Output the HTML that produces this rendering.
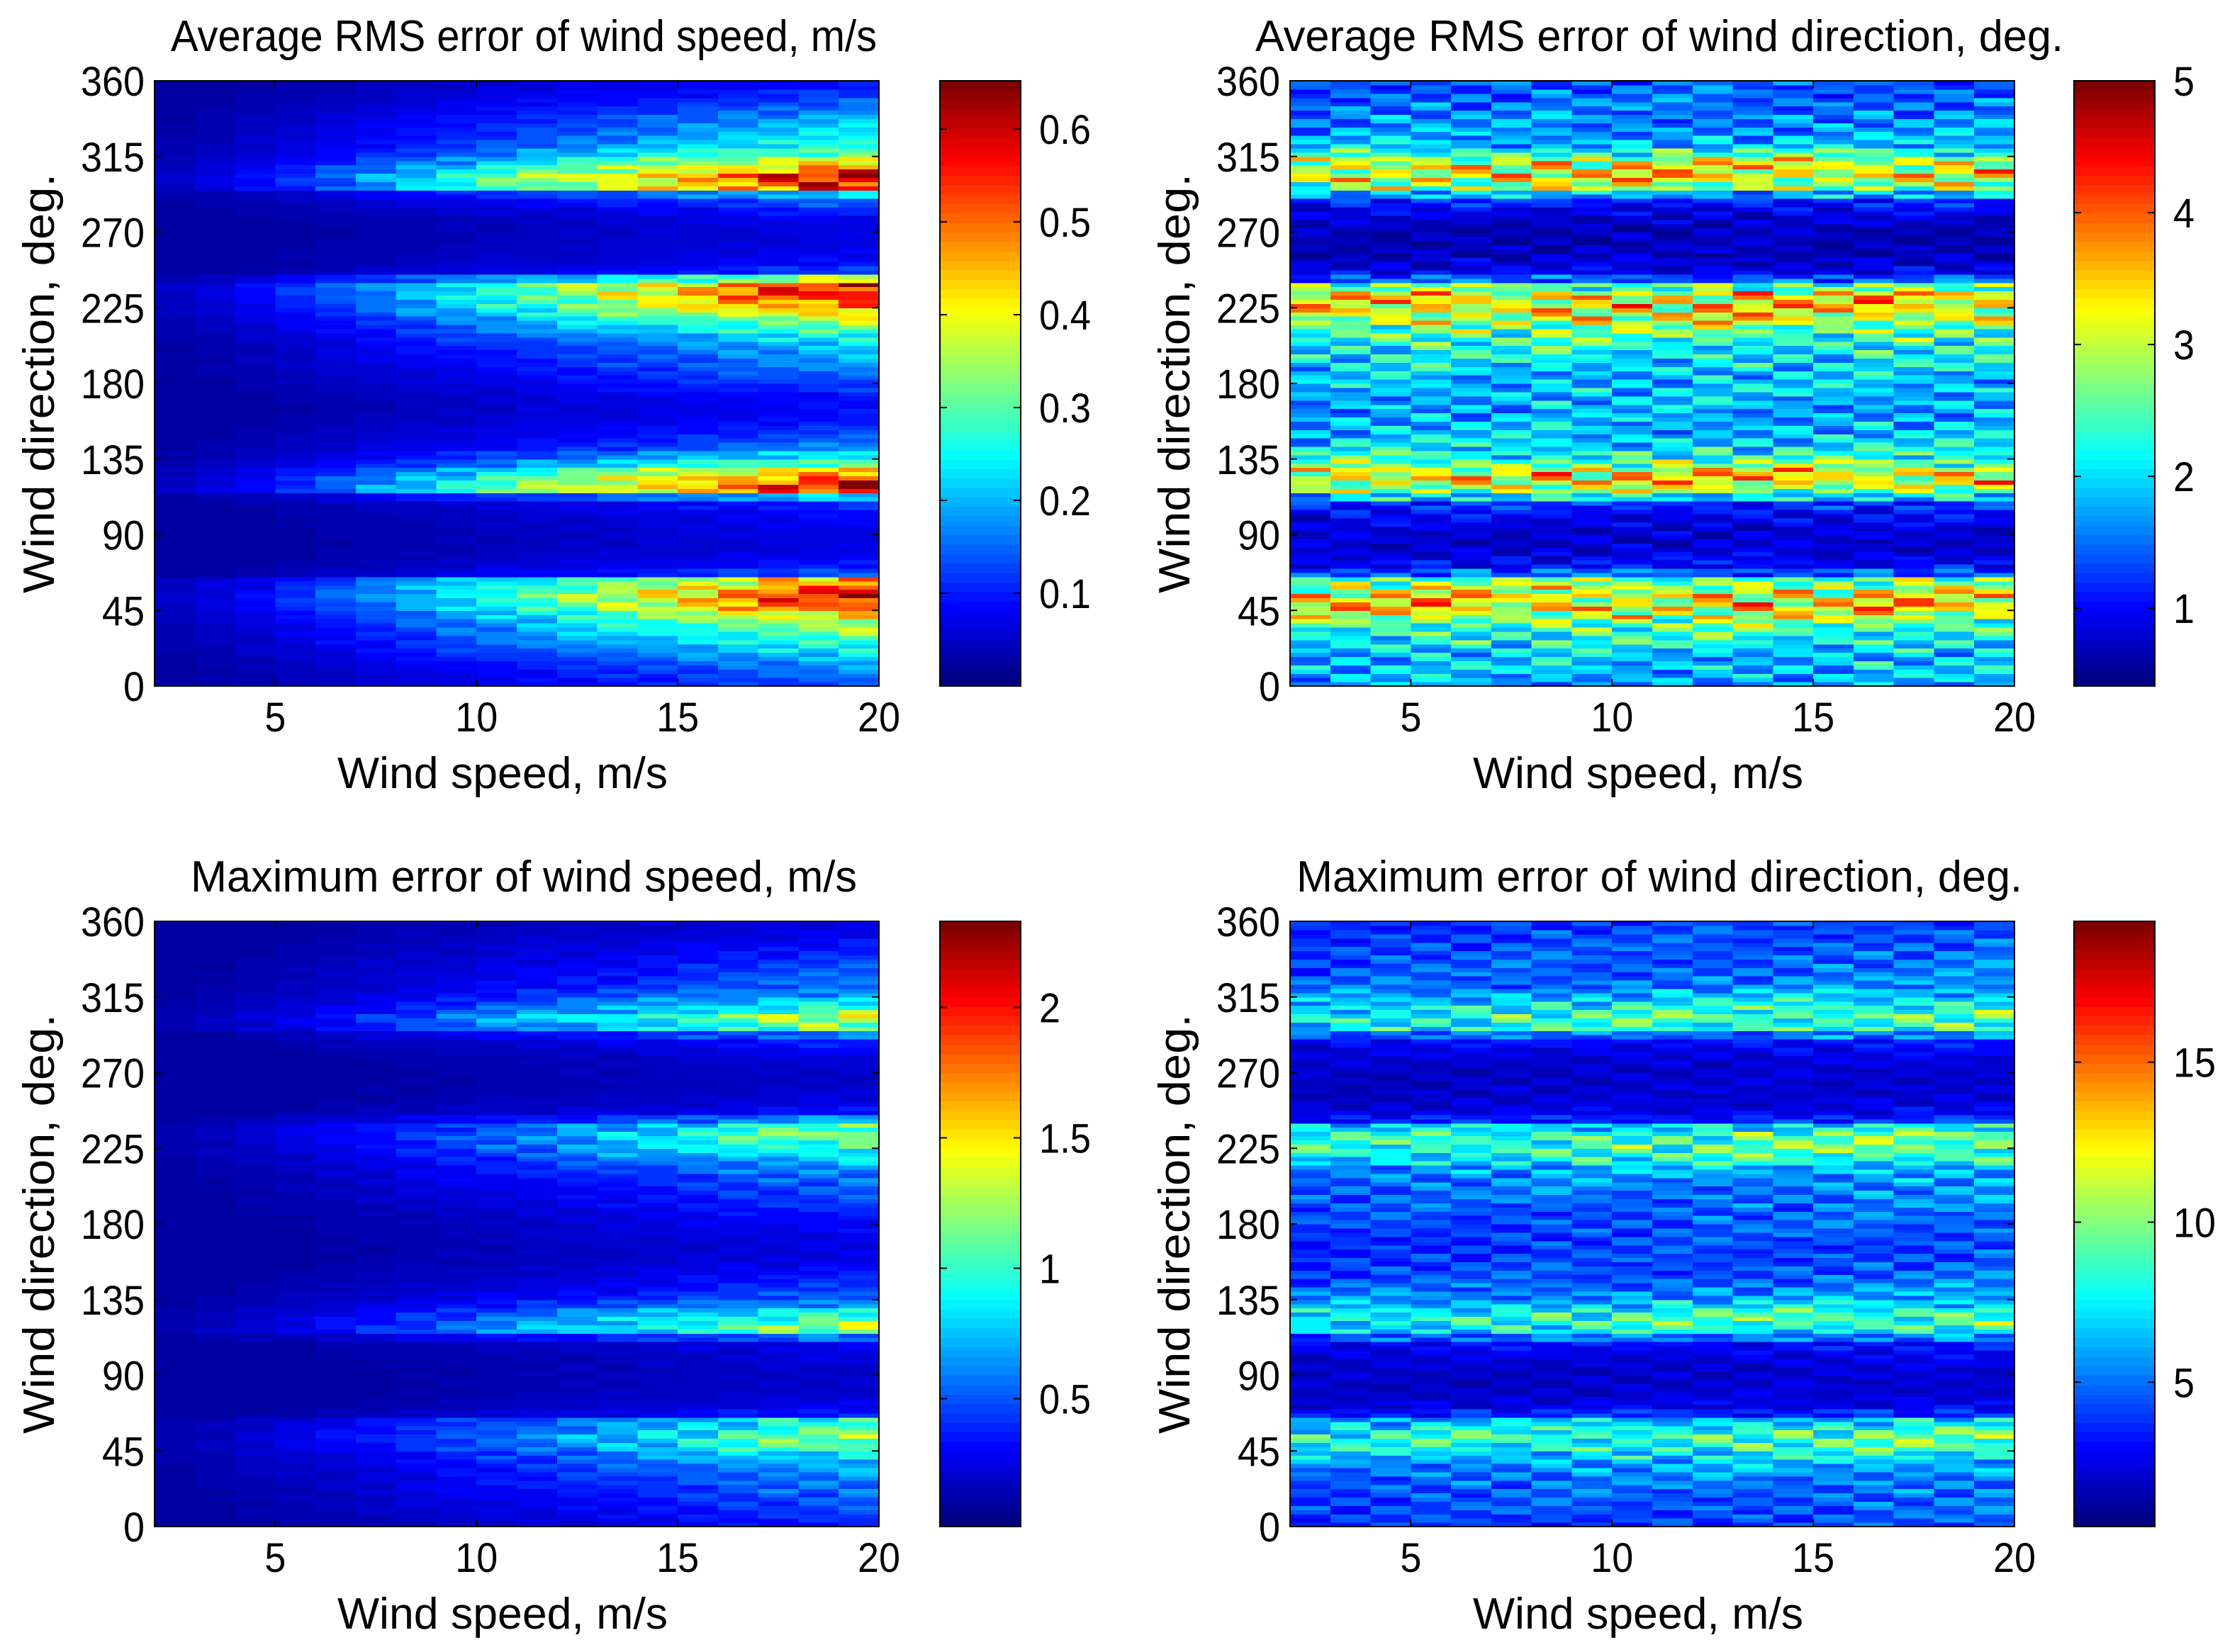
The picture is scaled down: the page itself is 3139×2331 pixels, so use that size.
<!DOCTYPE html>
<html><head><meta charset="utf-8">
<style>html,body{margin:0;padding:0;background:#fff}svg{display:block}text{font-family:"Liberation Sans",sans-serif;fill:#000}</style>
</head><body>
<svg id="fig" width="3139" height="2331" viewBox="0 0 3139 2331" xmlns="http://www.w3.org/2000/svg"></svg>
<script>
// ---- data ----
const speedEdges=[2,3,4,5,6,7,8,9,10,11,12,13,14,15,16,17,18,19,20];
const xTicks=[5,10,15,20];
const yTicks=[0,45,90,135,180,225,270,315,360];
const dirStep=5;
const profRmsSpeed=[0.12,0.14,0.16,0.2,0.24,0.28,0.32,0.36,0.42,0.5,0.55,0.52,0.45,0.12,0.08,0.06,0.05,0.05,0.05,0.06,0.07,0.09,0.2,0.58,0.55,0.45,0.3,0.22,0.15,0.12,0.1,0.08,0.07,0.07,0.08,0.1,0.12,0.14,0.16,0.18,0.2,0.24,0.3,0.35,0.45,0.5,0.55,0.55,0.35,0.1,0.07,0.06,0.05,0.05,0.05,0.06,0.08,0.12,0.2,0.55,0.6,0.5,0.4,0.3,0.25,0.22,0.2,0.18,0.15,0.12,0.1,0.08];
const profRmsDir=[1.7,1.8,1.9,1.8,2.0,2.2,2.3,2.6,3.0,3.3,3.2,3.0,2.6,1.4,1.0,0.9,0.8,0.8,0.8,0.9,1.0,1.2,2.0,2.8,3.3,3.2,2.6,2.2,2.0,1.9,1.8,1.8,1.7,1.8,1.8,1.9,1.8,1.9,2.0,2.1,2.2,2.4,2.6,3.0,3.2,3.3,3.2,2.5,1.4,0.9,0.8,0.7,0.7,0.7,0.7,0.8,0.9,1.1,1.8,2.8,3.2,3.2,3.0,2.3,1.8,1.7,1.6,1.6,1.5,1.5,1.4,1.4];
const profMaxSpeed=[0.3,0.35,0.4,0.45,0.5,0.55,0.6,0.7,0.8,1.0,1.1,1.0,0.9,0.3,0.2,0.15,0.12,0.12,0.12,0.14,0.16,0.2,0.5,1.2,1.1,0.9,0.6,0.45,0.35,0.3,0.25,0.2,0.18,0.18,0.2,0.22,0.25,0.3,0.35,0.4,0.45,0.5,0.6,0.7,0.9,1.0,1.1,1.0,0.6,0.25,0.18,0.15,0.12,0.12,0.12,0.15,0.2,0.3,0.5,1.1,1.3,1.0,0.8,0.6,0.5,0.45,0.4,0.35,0.3,0.25,0.2,0.18];
const profMaxDir=[4,4.2,4.5,4.5,4.8,5,5.5,6,7,8,8.5,8,6.5,3.5,2.5,2.2,2,2,2,2.2,2.5,3,5,7.5,8.5,8,6.5,5.5,5,4.5,4.3,4.2,4,4,4.2,4.3,4.5,4.5,4.8,5,5.2,5.5,6,7.5,8.5,8.8,8.5,7,3.5,2.5,2.2,2,2,2,2,2.2,2.5,3,5,8,8.5,8,7,6,5,4.8,4.6,4.5,4.5,4.3,4.2,4];
const colRmsSpeed=[0.05,0.08,0.12,0.17,0.22,0.28,0.34,0.4,0.46,0.52,0.58,0.64,0.7,0.76,0.82,0.88,0.94,1.0];
const colRmsDir=[0.95,1,1,1.02,1,0.98,1.03,1,1.01,0.99,1.02,1,1.01,0.98,1.02,1,1.01,1];
const colMaxSpeed=[0.05,0.08,0.12,0.16,0.21,0.26,0.32,0.38,0.44,0.5,0.56,0.62,0.68,0.75,0.82,0.88,0.94,1.0];
const colMaxDir=[0.9,0.92,0.94,0.95,0.96,0.98,0.99,1,1,1.01,1.02,1.03,1.04,1.05,1.06,1.07,1.08,1.1];
const jitter=[1.0,0.85,1.15,0.92,1.08,0.8,1.2,0.95,1.05,0.88,1.12,0.97,1.03,0.83,1.17,0.9,1.1,0.94,1.06,0.86,1.14,0.99,1.01,0.82,1.18,0.91,1.09,0.96,1.04,0.87,1.13,0.93,1.07,0.84,1.16,0.98,1.02];
const cbTicks1=[0.1,0.2,0.3,0.4,0.5,0.6];
const cbTicks2=[1,2,3,4,5];
const cbTicks3=[0.5,1,1.5,2];
const cbTicks4=[5,10,15];

const NS="http://www.w3.org/2000/svg";
const svg=document.getElementById('fig');
function mk(tag,attrs,parent){const e=document.createElementNS(NS,tag);for(const k in attrs)e.setAttribute(k,attrs[k]);(parent||svg).appendChild(e);return e;}
function jet(t){t=Math.max(0,Math.min(1,t));t=Math.min(63,Math.floor(t*64))/63;
 const c=v=>Math.round(255*Math.max(0,Math.min(1,v)));
 return `rgb(${c(1.5-Math.abs(4*t-3))},${c(1.5-Math.abs(4*t-2))},${c(1.5-Math.abs(4*t-1))})`;}
function tlen(s){let w=0;for(const ch of String(s))w+=(ch==='.')?13:30;return w;}

const panels=[
 {name:'rms-speed',title:'Average RMS error of wind speed, m/s',tl:996,L:218,T:114,prof:profRmsSpeed,col:colRmsSpeed,base:0.02,k:1,min:0,max:0.652,cb:cbTicks1,cbL:1326},
 {name:'rms-direction',title:'Average RMS error of wind direction, deg.',tl:1140,L:1820,T:114,prof:profRmsDir,col:colRmsDir,base:0,k:1.6,min:0.41,max:5,cb:cbTicks2,cbL:2926},
 {name:'max-speed',title:'Maximum error of wind speed, m/s',tl:940,L:218,T:1300,prof:profMaxSpeed,col:colMaxSpeed,base:0.08,k:1.3,min:0.01,max:2.33,cb:cbTicks3,cbL:1326},
 {name:'max-direction',title:'Maximum error of wind direction, deg.',tl:1024,L:1820,T:1300,prof:profMaxDir,col:colMaxDir,base:0,k:1.6,min:0.49,max:19.4,cb:cbTicks4,cbL:2926}
];
const W=1022,H=854,CBW=114;

panels.forEach(p=>{
 const g=mk('g',{});
 
 
 const xs=v=>p.L+(v-2)/18*W;
 const ys=v=>p.T+H-(v/360)*H;
 const cs=v=>(v-p.min)/(p.max-p.min);
 const hm=mk('g',{'shape-rendering':'crispEdges'},g);
 
 
 for(let r=0;r<p.prof.length;r++){
  for(let s=0;s<2;s++){
   for(let c=0;c<speedEdges.length-1;c++){
    const j=jitter[(s*13+c*7+r*3)%jitter.length];
    const v=p.base+p.prof[r]*p.col[c]*Math.pow(j,p.k);
    const d0=r*dirStep+s*dirStep/2,d1=d0+dirStep/2;
    const x0=xs(speedEdges[c]),x1=xs(speedEdges[c+1]);
    const rc=mk('rect',{x:x0,y:ys(d1),width:x1-x0+0.6,height:ys(d0)-ys(d1)+0.6,fill:jet(cs(v))},hm);
    
    
   }
  }
 }
 const box=mk('rect',{x:p.L,y:p.T,width:W,height:H,fill:'none',stroke:'#000','stroke-width':2},g);
 
 
 xTicks.forEach(t=>{
  const x=xs(t);
  mk('line',{x1:x,x2:x,y1:p.T+H,y2:p.T+H-10,stroke:'#000','stroke-width':2},g);
  mk('line',{x1:x,x2:x,y1:p.T,y2:p.T+10,stroke:'#000','stroke-width':2},g);
  const tx=mk('text',{x:x,y:p.T+H+64,'font-size':58,'text-anchor':'middle',textLength:tlen(t),lengthAdjust:'spacingAndGlyphs'},g);
  tx.textContent=t;
  
  
 });
 yTicks.forEach(t=>{
  const y=ys(t);
  mk('line',{x1:p.L,x2:p.L+10,y1:y,y2:y,stroke:'#000','stroke-width':2},g);
  mk('line',{x1:p.L+W,x2:p.L+W-10,y1:y,y2:y,stroke:'#000','stroke-width':2},g);
  const tx=mk('text',{x:p.L-14,y:y+21,'font-size':58,'text-anchor':'end',textLength:tlen(t),lengthAdjust:'spacingAndGlyphs'},g);
  tx.textContent=t;
  
  
 });
 const ti=mk('text',{x:p.L+W/2+10,y:p.T-42,'font-size':62,'text-anchor':'middle',textLength:p.tl,lengthAdjust:'spacingAndGlyphs'},g);
 ti.textContent=p.title;
 
 
 const xl=mk('text',{x:p.L+W/2-20,y:p.T+H+144,'font-size':62,'text-anchor':'middle',textLength:466,lengthAdjust:'spacingAndGlyphs'},g);
 xl.textContent='Wind speed, m/s';
 
 
 const yx=p.L-142,yy=p.T+H/2;
 const yl=mk('text',{x:yx,y:yy,'font-size':62,'text-anchor':'middle',transform:`rotate(-90 ${yx} ${yy})`,textLength:592,lengthAdjust:'spacingAndGlyphs'},g);
 yl.textContent='Wind direction, deg.';
 
 
 const cb=mk('g',{'shape-rendering':'crispEdges'},g);
 
 
 for(let i=0;i<64;i++){
  const y0=p.T+H-(i+1)/64*H;
  mk('rect',{x:p.cbL,y:y0,width:CBW,height:H/64+0.6,fill:jet((i+0.5)/64)},cb);
 }
 mk('rect',{x:p.cbL,y:p.T,width:CBW,height:H,fill:'none',stroke:'#000','stroke-width':2},g);
 p.cb.forEach(t=>{
  const y=p.T+H-cs(t)*H;
  mk('line',{x1:p.cbL,x2:p.cbL+10,y1:y,y2:y,stroke:'#000','stroke-width':2},g);
  mk('line',{x1:p.cbL+CBW,x2:p.cbL+CBW-10,y1:y,y2:y,stroke:'#000','stroke-width':2},g);
  const tx=mk('text',{x:p.cbL+CBW+26,y:y+21,'font-size':58,textLength:tlen(t),lengthAdjust:'spacingAndGlyphs'},g);
  tx.textContent=t;
  
  
 });
});
</script>
</body></html>
